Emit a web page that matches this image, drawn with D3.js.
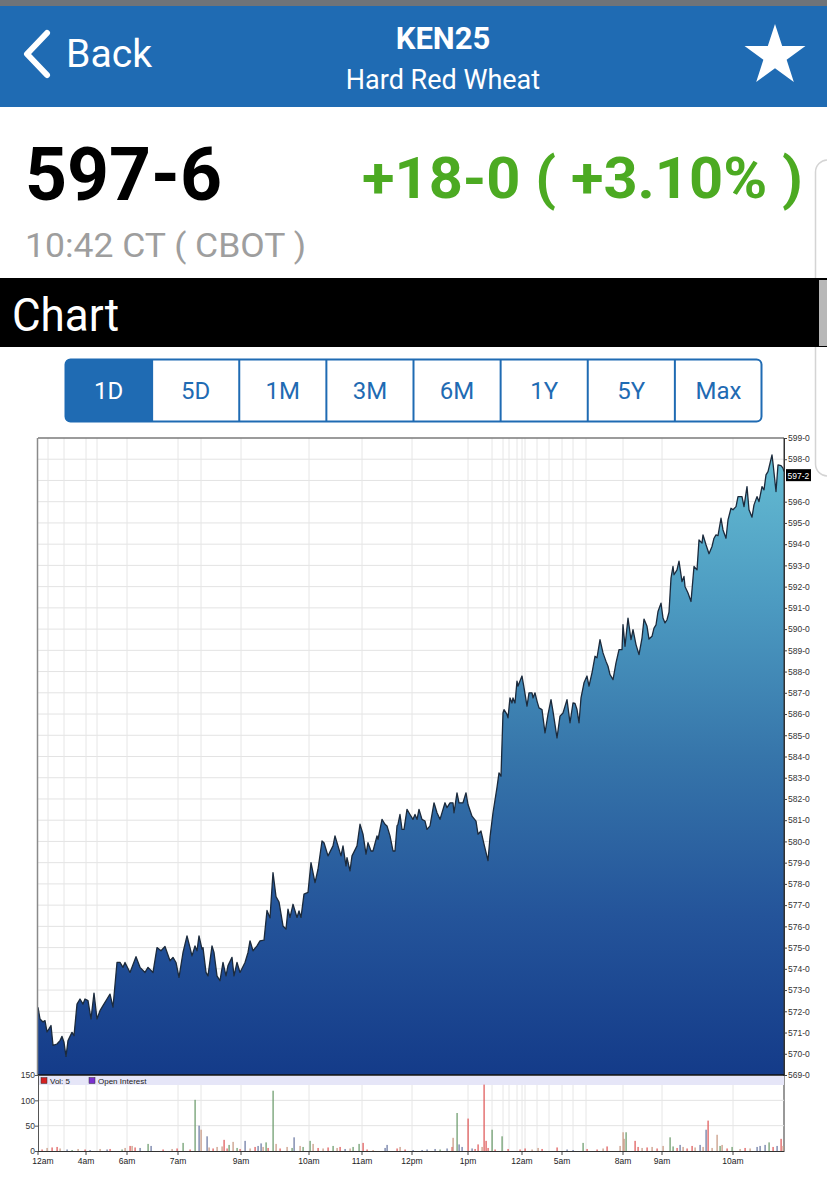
<!DOCTYPE html>
<html><head><meta charset="utf-8">
<script src="https://cdn.jsdelivr.net/npm/d3@7"></script>
<style>body{margin:0;background:#fff;overflow:hidden}svg{display:block}</style>
</head><body>
<svg id="c" width="827" height="1200"></svg>
<script>
// ---------------- data ----------------
const symbol = "KEN25";
const contractName = "Hard Red Wheat";
const lastPrice = "597-6";
const netChange = "+18-0 ( +3.10% )";
const quoteTime = "10:42 CT ( CBOT )";
const sectionTitle = "Chart";
const ranges = ["1D","5D","1M","3M","6M","1Y","5Y","Max"];
const selectedRange = "1D";
const lastTrade = 597.25;
const priceMin = 569, priceMax = 599;

// [bar index, price]
const priceSeries = [[0,572.19],[2,571.64],[5,571.5],[7,571.56],[9,571.03],[11,571.17],[13,571.33],[15,570.4],[19,570.46],[22,570.62],[24,570.82],[26,570.54],[28,569.88],[30,570.62],[34,571.01],[36,570.85],[39,572.34],[42,572.58],[45,572.34],[47,572.58],[50,572.5],[53,571.64],[56,572.86],[59,571.64],[62,572.03],[65,572.27],[69,572.58],[72,572.81],[75,572.2],[79,574.3],[82,574.3],[85,574.07],[87,574.3],[92,573.83],[98,574.57],[102,574.07],[107,573.83],[110,574.07],[115,573.83],[119,575.0],[123,574.85],[127,575.05],[132,574.38],[135,574.54],[138,574.3],[141,573.6],[145,574.77],[149,575.55],[152,575.0],[154,574.61],[157,575.08],[159,574.85],[161,575.55],[164,574.93],[165,575.0],[168,573.83],[170,573.67],[174,575.08],[176,574.77],[179,573.67],[182,573.44],[185,574.3],[188,573.67],[190,574.15],[194,574.54],[196,573.67],[199,574.3],[202,573.83],[207,574.3],[210,574.77],[212,575.32],[215,574.85],[219,575.08],[222,575.32],[226,575.35],[229,576.75],[232,576.4],[235,578.53],[238,577.4],[241,577.15],[245,576.02],[248,575.87],[250,576.81],[252,576.42],[255,577.04],[259,576.42],[261,576.73],[263,576.42],[266,577.52],[270,577.6],[273,579.0],[277,578.06],[280,578.69],[284,580.02],[286,579.94],[290,579.32],[295,579.79],[297,580.26],[300,579.79],[303,579.32],[305,579.79],[308,578.85],[309,579.24],[312,578.61],[314,579.32],[319,579.79],[322,580.81],[325,580.34],[328,579.4],[330,579.94],[333,579.55],[335,579.55],[339,580.26],[340,580.1],[344,581.04],[347,580.81],[349,580.73],[352,580.26],[355,579.55],[357,579.55],[359,580.73],[360,580.81],[362,581.27],[364,580.57],[366,580.57],[369,581.51],[372,581.27],[375,581.04],[377,581.27],[379,581.04],[381,581.51],[384,581.04],[387,580.96],[389,580.57],[392,580.73],[396,581.82],[399,581.35],[402,581.04],[405,581.51],[407,581.82],[409,581.59],[412,581.82],[415,581.82],[416,581.35],[419,582.29],[421,581.82],[425,581.82],[428,582.29],[430,581.74],[434,581.19],[438,580.96],[440,580.34],[443,580.49],[446,579.87],[450,579.1],[452,580.2],[455,581.35],[459,582.55],[461,583.23],[463,583.07],[465,586.05],[466,586.21],[469,585.98],[470,585.82],[472,586.76],[474,586.52],[475,586.76],[477,586.52],[479,587.55],[480,587.32],[484,587.79],[486,587.24],[489,586.37],[491,587.0],[494,587.0],[495,586.76],[497,587.0],[499,586.61],[501,586.29],[504,586.21],[507,585.11],[510,585.98],[513,586.68],[515,586.13],[519,584.88],[522,585.9],[525,586.05],[529,586.68],[532,585.59],[535,586.52],[537,586.5],[539,586.21],[541,585.59],[543,586.76],[546,587.47],[549,587.79],[551,587.32],[554,587.94],[557,588.72],[559,588.65],[562,589.5],[565,588.88],[568,588.48],[570,588.25],[572,587.86],[575,587.62],[578,588.41],[581,589.03],[584,589.03],[585,590.21],[587,589.19],[590,590.52],[593,589.5],[595,589.97],[598,589.27],[601,588.8],[604,589.58],[606,590.47],[609,590.13],[611,589.53],[614,589.66],[616,590.05],[618,590.2],[620,590.83],[623,591.22],[625,590.52],[627,590.29],[629,590.44],[631,590.8],[633,592.4],[635,592.95],[636,592.56],[639,592.79],[641,593.2],[644,592.24],[646,592.48],[647,592.01],[650,591.7],[653,591.3],[656,592.95],[659,592.79],[661,594.2],[664,594.05],[665,594.44],[668,593.97],[671,593.55],[674,593.89],[676,594.28],[678,594.44],[680,594.4],[683,595.22],[685,594.67],[688,594.28],[690,595.14],[693,595.69],[695,595.62],[698,595.77],[700,596.24],[704,596.24],[706,595.77],[709,596.71],[711,595.62],[714,595.27],[716,595.85],[719,596.24],[721,596.0],[724,596.71],[726,596.56],[728,597.26],[730,597.42],[734,598.2],[735,597.81],[738,596.48],[740,597.73],[743,597.7],[745,597.58],[746,597.42]];
const lastBar = 746;

const timeTickBars   = [0, 48, 89, 140, 203, 271, 324, 374, 430, 484, 524, 585, 624, 695];
const timeTickLabels = ["12am","4am","6am","7am","9am","10am","11am","12pm","1pm","12am","5am","8am","9am","10am"];
const minorGridBars  = [10, 26, 59, 163, 454, 465, 471, 479, 487, 499, 511, 535, 548];

// volume: [bar index, contracts, kind]
const volumeKinds = ["green","red","slate","tan"];
const volumeSeries = [[9,6,"tan"],[14,7,"red"],[19,8,"red"],[4,3,"red"],[22,5,"tan"],[29,3,"slate"],[34,2,"green"],[40,4,"tan"],[47,3,"red"],[52,2,"slate"],[62,4,"tan"],[69,3,"slate"],[72,4,"red"],[84,3,"green"],[87,6,"tan"],[92,10,"red"],[94,10,"tan"],[97,7,"red"],[102,6,"slate"],[110,14,"green"],[113,10,"slate"],[125,3,"red"],[134,4,"tan"],[139,5,"red"],[145,16,"green"],[152,3,"red"],[157,101,"green"],[161,50,"slate"],[163,42,"tan"],[169,29,"slate"],[171,7,"tan"],[175,5,"red"],[179,8,"tan"],[184,9,"tan"],[186,22,"red"],[189,5,"red"],[191,12,"green"],[195,18,"tan"],[199,6,"green"],[202,4,"red"],[207,20,"slate"],[212,5,"tan"],[217,8,"red"],[220,10,"slate"],[223,15,"slate"],[225,8,"tan"],[228,17,"green"],[230,6,"red"],[235,119,"green"],[238,14,"tan"],[242,5,"red"],[249,8,"tan"],[254,6,"green"],[256,27,"slate"],[262,10,"tan"],[265,8,"green"],[272,20,"green"],[275,14,"tan"],[280,6,"red"],[285,5,"tan"],[290,7,"red"],[295,10,"green"],[299,6,"tan"],[302,8,"red"],[307,4,"slate"],[312,5,"tan"],[315,8,"green"],[321,14,"green"],[325,16,"red"],[329,3,"red"],[335,2,"tan"],[347,6,"slate"],[349,12,"slate"],[359,5,"red"],[362,8,"tan"],[367,3,"red"],[375,2,"slate"],[384,2,"slate"],[389,3,"slate"],[397,4,"slate"],[402,3,"green"],[409,5,"slate"],[414,8,"red"],[415,26,"tan"],[419,75,"green"],[421,13,"slate"],[424,8,"slate"],[430,64,"red"],[434,5,"slate"],[437,4,"red"],[440,13,"red"],[444,8,"tan"],[446,131,"red"],[448,20,"red"],[450,6,"red"],[454,42,"green"],[457,3,"red"],[464,29,"green"],[470,4,"red"],[482,3,"red"],[487,5,"red"],[494,3,"tan"],[500,6,"tan"],[504,4,"red"],[519,7,"red"],[529,3,"slate"],[535,2,"slate"],[545,16,"green"],[549,4,"red"],[559,3,"red"],[565,5,"tan"],[569,9,"red"],[582,10,"tan"],[585,37,"tan"],[586,24,"tan"],[588,37,"green"],[597,20,"red"],[600,8,"red"],[604,6,"tan"],[609,7,"red"],[614,8,"tan"],[619,5,"red"],[625,10,"tan"],[632,27,"green"],[635,9,"green"],[639,6,"red"],[642,12,"slate"],[645,8,"tan"],[649,5,"red"],[654,10,"red"],[657,7,"tan"],[662,12,"slate"],[665,8,"tan"],[668,42,"slate"],[670,60,"red"],[674,6,"tan"],[679,32,"tan"],[682,10,"green"],[684,12,"tan"],[689,5,"red"],[694,8,"green"],[702,4,"tan"],[707,6,"red"],[712,5,"tan"],[719,8,"slate"],[722,10,"slate"],[727,12,"slate"],[731,17,"green"],[735,8,"red"],[739,10,"slate"],[743,24,"red"],[745,10,"tan"]];
const volumeTicks = [0, 50, 100, 150];
const volumeMax = 150;
const legendItems = ["Vol: 5", "Open Interest"];

// ---------------- drawing ----------------
const svg = d3.select("#c");
const F = "Roboto, 'Noto Sans', sans-serif";
const SF = "'Liberation Sans', Arial, sans-serif";
const blue = "#1f6bb3";

// status strip + header
svg.append("rect").attr("x",0).attr("y",0).attr("width",827).attr("height",6).attr("fill","#6f7378");
svg.append("rect").attr("x",0).attr("y",6).attr("width",827).attr("height",101).attr("fill",blue);
svg.append("path").attr("d","M47,33 L27,54 L47,75").attr("fill","none").attr("stroke","#fff")
  .attr("stroke-width",6).attr("stroke-linecap","round").attr("stroke-linejoin","round");
svg.append("text").attr("x",66).attr("y",67).attr("font-family",F).attr("font-size",38)
  .attr("fill","#fff").attr("textLength",86).attr("lengthAdjust","spacingAndGlyphs").text("Back");
svg.append("text").attr("x",443).attr("y",49).attr("text-anchor","middle").attr("font-family",F)
  .attr("font-weight","bold").attr("font-size",31).attr("fill","#fff").text(symbol);
svg.append("text").attr("x",443).attr("y",89).attr("text-anchor","middle").attr("font-family",F)
  .attr("font-size",27).attr("fill","#fff").text(contractName);
svg.append("path").attr("d", d3.symbol(d3.symbolStar).size(1150)())
  .attr("transform","translate(775,56)").attr("fill","#fff");

// quote block
svg.append("text").attr("x",25).attr("y",200).attr("font-family",F).attr("font-weight","bold")
  .attr("font-size",74).attr("fill","#000").attr("textLength",197).attr("lengthAdjust","spacingAndGlyphs").text(lastPrice);
svg.append("text").attr("x",362).attr("y",198).attr("font-family",F).attr("font-weight","bold")
  .attr("font-size",58).attr("fill","#4caa22").attr("textLength",441).attr("lengthAdjust","spacingAndGlyphs").text(netChange);
svg.append("text").attr("x",25).attr("y",257).attr("font-family",F)
  .attr("font-size",34).attr("fill","#9e9e9e").attr("textLength",281).attr("lengthAdjust","spacingAndGlyphs").text(quoteTime);

// side scroll outline
svg.append("rect").attr("x",815.5).attr("y",160).attr("width",30).attr("height",316).attr("rx",12)
  .attr("fill","none").attr("stroke","#d4d4d4").attr("stroke-width",1.5);

// section band
svg.append("rect").attr("x",0).attr("y",278).attr("width",827).attr("height",69).attr("fill","#000");
svg.append("rect").attr("x",819).attr("y",280).attr("width",8).attr("height",66).attr("fill","#b8b8b8");
svg.append("text").attr("x",12).attr("y",331).attr("font-family",F).attr("font-size",46)
  .attr("fill","#fff").attr("textLength",107).attr("lengthAdjust","spacingAndGlyphs").text(sectionTitle);

// range buttons
const bx = d3.scaleBand().domain(ranges).range([65,762]);
const btn = svg.append("g");
btn.append("rect").attr("x",65.5).attr("y",359.5).attr("width",696).attr("height",62).attr("rx",5)
  .attr("fill","#fff").attr("stroke",blue).attr("stroke-width",2);
btn.append("path").attr("d",(() => {
  const x0 = bx(selectedRange), x1 = x0 + bx.bandwidth();
  return `M${x1},359.5 L${x0+5},359.5 Q${x0+0.5},359.5 ${x0+0.5},364.5 L${x0+0.5},416.5 Q${x0+0.5},421.5 ${x0+5},421.5 L${x1},421.5 Z`;
})()).attr("fill",blue);
btn.selectAll("line.div").data(ranges.slice(1)).join("line").attr("class","div")
  .attr("x1",d=>bx(d)).attr("x2",d=>bx(d)).attr("y1",360).attr("y2",421).attr("stroke",blue).attr("stroke-width",2);
btn.selectAll("text").data(ranges).join("text")
  .attr("x",d=>bx(d)+bx.bandwidth()/2).attr("y",399).attr("text-anchor","middle")
  .attr("font-family",F).attr("font-size",24).attr("fill",d=>d===selectedRange?"#fff":blue).text(d=>d);

// ---------- chart ----------
const L = 38, R = 784, T = 438, B = 1075;
const x = d3.scaleLinear().domain([0,lastBar]).range([L,R]);
const y = d3.scaleLinear().domain([priceMin,priceMax]).range([B,T]);
const yv = d3.scaleLinear().domain([0,volumeMax]).range([1151,1075]);
const fmt = v => { const w = Math.floor(v); return w + "-" + Math.round((v-w)*8); };

const defs = svg.append("defs");
const grad = defs.append("linearGradient").attr("id","g").attr("gradientUnits","userSpaceOnUse")
  .attr("x1",0).attr("x2",0).attr("y1",T).attr("y2",B);
[[0,"#67bfd4"],[0.25,"#4d9cc2"],[0.5,"#3675aa"],[0.75,"#24549a"],[1,"#143b89"]]
  .forEach(([o,c]) => grad.append("stop").attr("offset",o).attr("stop-color",c));
defs.append("clipPath").attr("id","pc").append("rect").attr("x",L).attr("y",T).attr("width",R-L).attr("height",B-T);

// grids main
const gg = svg.append("g");
gg.selectAll("line.h").data(d3.range(priceMin+1, priceMax)).join("line").attr("class","h")
  .attr("x1",L).attr("x2",R).attr("y1",d=>y(d)).attr("y2",d=>y(d)).attr("stroke","#e3e3e3");
const vGrid = timeTickBars.slice(1).concat(minorGridBars);
gg.selectAll("line.v").data(vGrid).join("line").attr("class","v")
  .attr("x1",d=>x(d)).attr("x2",d=>x(d)).attr("y1",T).attr("y2",B).attr("stroke","#e6e6e6");

// area + line
const pts = priceSeries.map(([b,v]) => ({b,v}));
svg.append("path").datum(pts).attr("clip-path","url(#pc)")
  .attr("d", d3.area().x(d=>x(d.b)).y0(B).y1(d=>y(d.v))).attr("fill","url(#g)");
svg.append("path").datum(pts).attr("clip-path","url(#pc)")
  .attr("d", d3.line().x(d=>x(d.b)).y(d=>y(d.v))).attr("fill","none")
  .attr("stroke","#1b2a3c").attr("stroke-width",1.3).attr("stroke-linejoin","round");

// frame
svg.append("line").attr("x1",L).attr("x2",R).attr("y1",T).attr("y2",T).attr("stroke","#7a7a7a").attr("stroke-width",1.5);
svg.append("line").attr("x1",L-0.5).attr("x2",L-0.5).attr("y1",T).attr("y2",B).attr("stroke","#8a8a8a").attr("stroke-width",1.5);

// right price axis
const ticks = d3.range(priceMin, priceMax+1).filter(v => Math.abs(y(v)-y(lastTrade)) > 7);
const ya = svg.append("g").attr("transform",`translate(${R},0)`)
  .call(d3.axisRight(y).tickValues(ticks).tickFormat(fmt).tickSize(3).tickSizeOuter(0));
ya.select(".domain").attr("stroke","#333");
ya.selectAll("line").attr("stroke","#444");
ya.selectAll("text").attr("font-family",SF).attr("font-size",8.5).attr("fill","#333").attr("x",4);
svg.append("line").attr("x1",R).attr("x2",R).attr("y1",T).attr("y2",1152).attr("stroke","#333");
const ly = y(lastTrade);
svg.append("rect").attr("x",R+2).attr("y",ly-6).attr("width",25).attr("height",12).attr("fill","#000");
svg.append("text").attr("x",R+3.5).attr("y",ly+3.5).attr("font-family",SF).attr("font-size",8.5)
  .attr("fill","#fff").text(fmt(lastTrade));

// ---------- volume panel ----------
const vg = svg.append("g");
vg.selectAll("line.h").data(volumeTicks.filter(v=>v>0&&v<volumeMax)).join("line").attr("class","h")
  .attr("x1",L).attr("x2",R).attr("y1",d=>yv(d)).attr("y2",d=>yv(d)).attr("stroke","#e3e3e3");
vg.selectAll("line.v").data(vGrid).join("line").attr("class","v")
  .attr("x1",d=>x(d)).attr("x2",d=>x(d)).attr("y1",1076).attr("y2",1151).attr("stroke","#e6e6e6");
vg.append("rect").attr("x",L).attr("y",1076).attr("width",R-L).attr("height",9).attr("fill","#e6e6f8");

const vcol = d3.scaleOrdinal().domain(volumeKinds).range(["#6e9c6e","#e05a5a","#6d7aa3","#c99a84"]);
vg.selectAll("rect.bar").data(volumeSeries).join("rect").attr("class","bar")
  .attr("x",d=>x(d[0])-0.6).attr("width",1.4)
  .attr("y",d=>yv(d[1])).attr("height",d=>yv(0)-yv(d[1]))
  .attr("fill",d=>vcol(d[2])).attr("opacity",0.9);

// legend
const legColors = ["#d42020","#7a2fd0"];
const legX = [41, 89];
legendItems.forEach((t,i) => {
  vg.append("rect").attr("x",legX[i]).attr("y",1077.5).attr("width",6).attr("height",6)
    .attr("fill",legColors[i]).attr("stroke","#333").attr("stroke-width",0.5);
  vg.append("text").attr("x",legX[i]+9).attr("y",1083.8).attr("font-family",SF).attr("font-size",8)
    .attr("fill","#222").text(t);
});

// main bottom border
svg.append("line").attr("x1",L).attr("x2",R).attr("y1",B).attr("y2",B).attr("stroke","#111").attr("stroke-width",1.5);

// volume axis
const va = svg.append("g").attr("transform",`translate(${L},0)`)
  .call(d3.axisLeft(yv).tickValues(volumeTicks).tickSize(3).tickSizeOuter(0));
va.select(".domain").attr("stroke","#555");
va.selectAll("line").attr("stroke","#555");
va.selectAll("text").attr("font-family",SF).attr("font-size",8.5).attr("fill","#333").attr("x",-3);

// time axis
svg.append("line").attr("x1",L).attr("x2",R).attr("y1",1151.5).attr("y2",1151.5).attr("stroke","#333");
const tg = svg.append("g");
tg.selectAll("line").data(timeTickBars).join("line")
  .attr("x1",d=>x(d)).attr("x2",d=>x(d)).attr("y1",1152).attr("y2",1155).attr("stroke","#444");
tg.selectAll("text").data(timeTickBars).join("text")
  .attr("x",(d,i)=> i===0 ? x(d)+5 : x(d)).attr("y",1164).attr("text-anchor","middle")
  .attr("font-family",SF).attr("font-size",8.5).attr("fill","#222").text((d,i)=>timeTickLabels[i]);
</script>
</body></html>
